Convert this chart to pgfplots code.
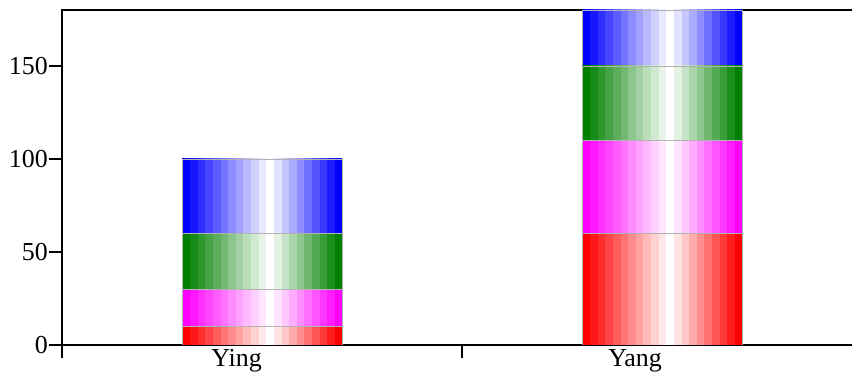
\documentclass[border=0pt]{standalone}
\usepackage{pgfplots}
\pgfplotsset{compat=1.18}
\usepackage{fontspec}
\setmainfont{Liberation Serif}
\definecolor{mygreen}{RGB}{0,128,0}
\newcommand\mkshade[2]{%
\pgfdeclarehorizontalshading{#1}{100bp}{%
color(0bp)=(#2); color(27.37bp)=(#2);
color(27.39bp)=(#2!91!white); color(29.75bp)=(#2!91!white);
color(29.77bp)=(#2!82!white); color(32.13bp)=(#2!82!white);
color(32.15bp)=(#2!73!white); color(34.51bp)=(#2!73!white);
color(34.53bp)=(#2!64!white); color(36.89bp)=(#2!64!white);
color(36.91bp)=(#2!55!white); color(39.27bp)=(#2!55!white);
color(39.29bp)=(#2!45!white); color(41.65bp)=(#2!45!white);
color(41.67bp)=(#2!36!white); color(44.03bp)=(#2!36!white);
color(44.05bp)=(#2!27!white); color(46.42bp)=(#2!27!white);
color(46.44bp)=(#2!18!white); color(48.80bp)=(#2!18!white);
color(48.82bp)=(#2!9!white); color(51.18bp)=(#2!9!white);
color(51.20bp)=(white); color(53.56bp)=(white);
color(53.58bp)=(#2!11!white); color(55.94bp)=(#2!11!white);
color(55.96bp)=(#2!22!white); color(58.32bp)=(#2!22!white);
color(58.34bp)=(#2!33!white); color(60.70bp)=(#2!33!white);
color(60.72bp)=(#2!44!white); color(63.08bp)=(#2!44!white);
color(63.10bp)=(#2!56!white); color(65.46bp)=(#2!56!white);
color(65.48bp)=(#2!67!white); color(67.85bp)=(#2!67!white);
color(67.87bp)=(#2!78!white); color(70.23bp)=(#2!78!white);
color(70.25bp)=(#2!89!white); color(72.61bp)=(#2!89!white);
color(72.63bp)=(#2); color(100bp)=(#2)}}
\mkshade{redstrip}{red}
\mkshade{magstrip}{magenta}
\mkshade{greenstrip}{mygreen}
\mkshade{bluestrip}{blue}
\pgfplotsset{
  geom/.style={
    at={(0,0)}, anchor=south west,
    scale only axis, width=795bp, height=335bp,
    xmin=0, xmax=1.9875, ymin=0, ymax=180,
    ybar stacked, bar width=0.4,
  },
  seg/.style={shade, shading=#1, draw=black!30, line width=0.3bp},
}
\begin{document}
\begin{tikzpicture}
\useasboundingbox (-62bp,-28bp) rectangle (790bp,345bp);
% Ying
\begin{axis}[geom,
  axis line style={line width=2.6bp},
  xtick={0,1,2}, xticklabels={},
  ytick={0,50,100,150},
  xtick pos=bottom, ytick pos=left,
  tick align=outside, major tick length=13bp,
  tick style={line width=2.4bp, black},
  extra x ticks={0.5,1.5},
  extra x tick labels={Ying,Yang},
  extra x tick style={major tick length=0pt, tick style={draw=none},
    xticklabel style={anchor=north east, inner sep=0bp, yshift=-4bp}},
  tick label style={font=\fontsize{26}{28}\selectfont},
  /pgf/number format/assume math mode=true,
  yticklabel style={inner sep=1bp},
]
\addplot[seg=redstrip]   coordinates {(0.5,10)};
\addplot[seg=magstrip]   coordinates {(0.5,20)};
\addplot[seg=greenstrip] coordinates {(0.5,30)};
\addplot[seg=bluestrip]  coordinates {(0.5,40)};
\end{axis}
% Yang
\begin{axis}[geom, hide axis]
\addplot[seg=redstrip]   coordinates {(1.5,60)};
\addplot[seg=magstrip]   coordinates {(1.5,50)};
\addplot[seg=greenstrip] coordinates {(1.5,40)};
\addplot[seg=bluestrip]  coordinates {(1.5,30)};
\end{axis}
\end{tikzpicture}
\end{document}
